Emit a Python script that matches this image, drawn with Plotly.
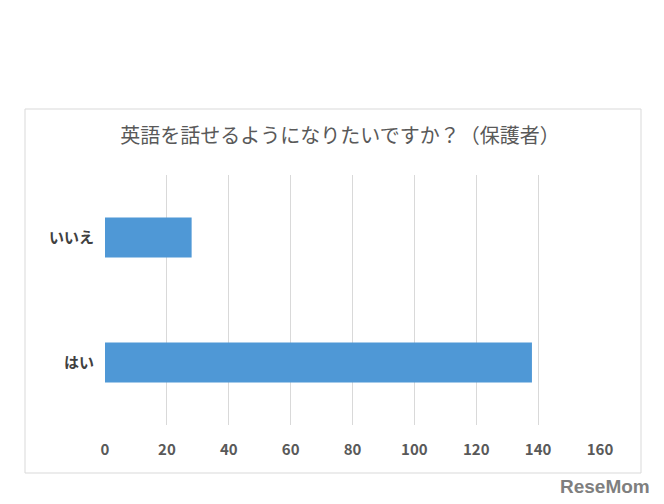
import plotly.graph_objects as go

categories = ['はい', 'いいえ']
values = [138, 28]
tick_vals = [0, 20, 40, 60, 80, 100, 120, 140, 160]

font = 'Noto Sans CJK JP'

fig = go.Figure(go.Bar(x=values, y=categories, orientation='h',
                       marker=dict(color='#4f98d6', line=dict(width=0)),
                       width=0.32))

fig.update_layout(
    width=664, height=504,
    margin=dict(l=97, r=72, t=167, b=87),
    paper_bgcolor='white', plot_bgcolor='white',
    showlegend=False,
    font=dict(family=font, color='#595959'),
    title=dict(text='英語を話せるようになりたいですか？（保護者）', x=0.5, xanchor='center',
               y=1 - 128 / 504, yanchor='middle', font=dict(size=20, color='#595959', family=font)),
    xaxis=dict(range=[0, 160], tickvals=tick_vals,
               ticktext=['<b>' + str(v) + '</b>' for v in tick_vals],
               showgrid=True, gridcolor='#d9d9d9',
               gridwidth=1, zeroline=False, showline=False, ticks='',
               tickfont=dict(size=15, color='#595959'), ticklabelstandoff=14),
    yaxis=dict(range=[-0.5, 1.5], showgrid=False, zeroline=False, ticks='',
               tickvals=categories, ticktext=['<b>' + c + '</b>' for c in categories],
               tickfont=dict(size=15, color='#404040'), ticklabelstandoff=10),
    shapes=[dict(type='rect', xref='paper', yref='paper',
                 x0=(25 - 105) / 495, x1=(641 - 105) / 495,
                 y0=(425 - 473) / 250, y1=(425 - 109) / 250,
                 line=dict(color='#d9d9d9', width=1))],
    annotations=[dict(text='<b>ReseMom</b>', xref='paper', yref='paper',
                      x=(652 - 105) / 495, y=(425 - 486) / 250, xanchor='right', yanchor='middle',
                      showarrow=False, font=dict(size=19, color='#7f7f7f', family='Liberation Sans Narrow, sans-serif'))],
)

fig.write_html('out.html')
